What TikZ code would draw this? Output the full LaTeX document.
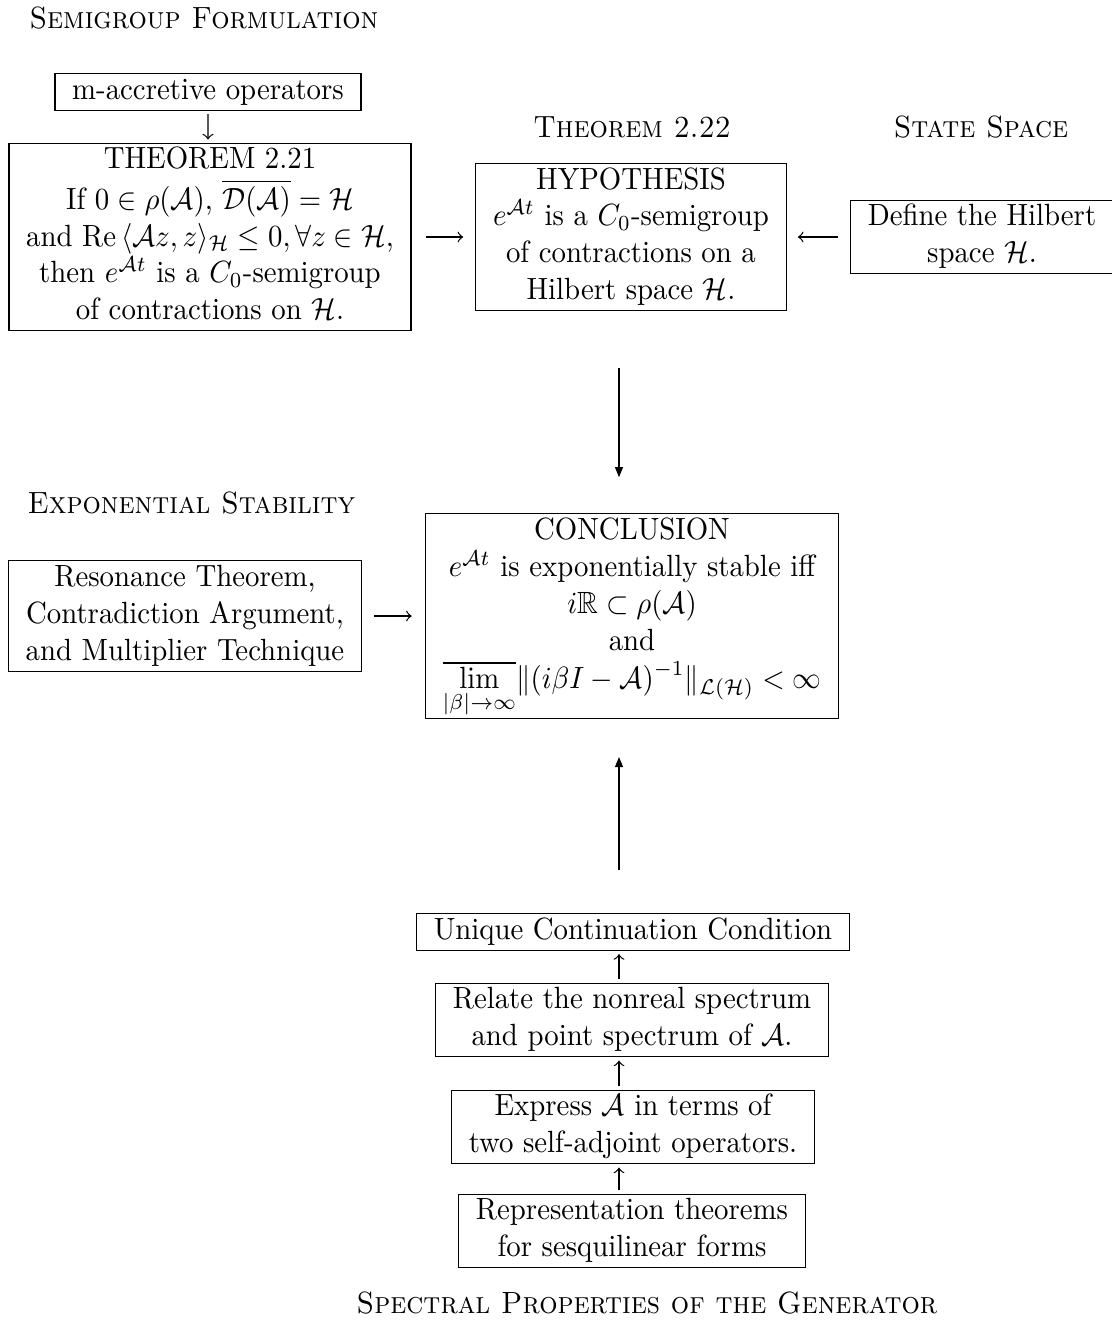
\documentclass[tikz,border=0pt]{standalone}
\usepackage{amsmath,amssymb}
\usetikzlibrary{arrows.meta}
\tikzset{
  box/.style={draw, line width=0.4pt, inner sep=0pt, xscale=0.938},
  ttl/.style={inner sep=0pt, font=\scshape, xscale=0.938},
  marrow/.style={-to, line width=0.4pt},
  bigarrow/.style={-{Triangle[length=3.3pt,width=2.6pt]}, line width=0.4pt},
}
\begin{document}
\begin{tikzpicture}[x=0.3257pt,y=-0.3257pt]
\useasboundingbox (0,0) rectangle (1112,1322);
% titles
\node[ttl, anchor=base west] (tsg) at (29,28) {Semigroup Formulation};
\node[ttl, anchor=base] (tth) at (632,137) {Theorem 2.22};
\node[ttl, anchor=base] (tss) at (981,137) {State Space};
\node[ttl, anchor=base west] (tes) at (27,513) {Exponential Stability};
\node[ttl, anchor=base] (tsp) at (647,1313) {Spectral Properties of the Generator};
% boxes
\node[box] (macc) at (208,92) {\begin{tabular}{c}m-accretive operators\end{tabular}};
\node[box] (thm) at (210,237) {\begin{tabular}{c}
THEOREM 2.21\\
If $0\in\rho(\mathcal{A})$, $\overline{\mathcal{D}(\mathcal{A})}=\mathcal{H}$\\
and $\mathrm{Re}\,\langle\mathcal{A}z,z\rangle_{\mathcal{H}}\le 0,\forall z\in\mathcal{H}$,\\
then $e^{\mathcal{A}t}$ is a $C_0$-semigroup\\
of contractions on $\mathcal{H}$.
\end{tabular}};
\node[box] (hyp) at (631,237) {\begin{tabular}{c}
HYPOTHESIS\\
$e^{\mathcal{A}t}$ is a $C_0$-semigroup\\
of contractions on a\\
Hilbert space $\mathcal{H}$.
\end{tabular}};
\node[box] (def) at (982,237) {\begin{tabular}{c}
Define the Hilbert\\
space $\mathcal{H}$.
\end{tabular}};
\node[box] (res) at (185,616) {\begin{tabular}{c}
Resonance Theorem,\\
Contradiction Argument,\\
and Multiplier Technique
\end{tabular}};
\node[box] (concl) at (632,616) {\begin{tabular}{c}
CONCLUSION\\
$e^{\mathcal{A}t}$ is exponentially stable iff\\
$i\mathbb{R}\subset\rho(\mathcal{A})$\\
and\\
$\displaystyle\overline{\lim_{|\beta|\to\infty}}\|(i\beta I-\mathcal{A})^{-1}\|_{\mathcal{L}(\mathcal{H})}<\infty$
\end{tabular}};
\node[box] (uniq) at (633,932) {\begin{tabular}{c}Unique Continuation Condition\end{tabular}};
\node[box] (rel) at (632,1020) {\begin{tabular}{c}
Relate the nonreal spectrum\\
and point spectrum of $\mathcal{A}$.
\end{tabular}};
\node[box] (expr) at (633,1127) {\begin{tabular}{c}
Express $\mathcal{A}$ in terms of\\
two self-adjoint operators.
\end{tabular}};
\node[box] (repr) at (632,1231) {\begin{tabular}{c}
Representation theorems\\
for sesquilinear forms
\end{tabular}};
% connectors
\coordinate (ax) at (619,0);
\draw[marrow, shorten <=1pt, shorten >=1pt] (macc) -- (macc |- thm.north);
\draw[marrow, shorten <=4.6pt, shorten >=3.9pt] (thm.east) -- (thm.east -| hyp.west);
\draw[marrow, shorten <=3.9pt, shorten >=3.6pt] (def.west) -- (def.west -| hyp.east);
\draw[marrow, shorten <=3.9pt, shorten >=4.2pt] (res.east) -- (res.east -| concl.west);
\draw[bigarrow, shorten <=18.6pt, shorten >=11.7pt] (hyp.south -| ax) -- (concl.north -| ax);
\draw[bigarrow, shorten <=14pt, shorten >=12.4pt] (uniq.north -| ax) -- (concl.south -| ax);
\draw[marrow, shorten <=1pt, shorten >=1pt] (rel.north -| ax) -- (uniq.south -| ax);
\draw[marrow, shorten <=1pt, shorten >=1pt] (expr.north -| ax) -- (rel.south -| ax);
\draw[marrow, shorten <=1pt, shorten >=1pt] (repr.north -| ax) -- (expr.south -| ax);
\end{tikzpicture}
\end{document}
